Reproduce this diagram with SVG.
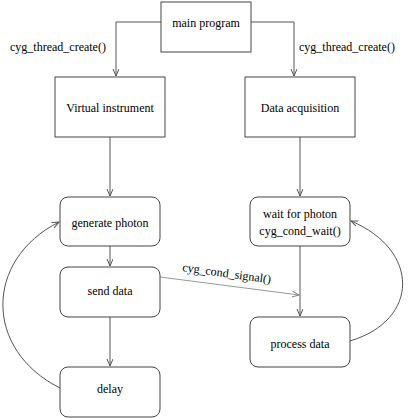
<svg xmlns="http://www.w3.org/2000/svg" width="408" height="418" viewBox="0 0 408 418" font-family="'Liberation Serif', 'DejaVu Serif', serif" font-size="12">
<defs>
<style>
.box{fill:#fff;stroke:#444;stroke-width:1}
.ln{fill:none;stroke:#555;stroke-width:1}
.lt{fill:none;stroke:#999;stroke-width:1}
text{font-family:'Liberation Serif','Times New Roman',serif;font-size:12px;fill:#000}
.c{text-anchor:middle}
</style>
<marker id="ah" markerUnits="userSpaceOnUse" markerWidth="10" markerHeight="10" refX="7" refY="3" orient="auto">
<path d="M0,0 L7,3 L0,6" fill="none" stroke="#555" stroke-width="1"/>
</marker>
<marker id="ahl" markerUnits="userSpaceOnUse" markerWidth="10" markerHeight="10" refX="7" refY="3" orient="auto">
<path d="M0,0 L7,3 L0,6" fill="none" stroke="#888" stroke-width="1"/>
</marker>
</defs>
<rect width="408" height="418" fill="#fff"/>
<g id="connectors">
<path class="ln" d="M161,22 H116 V76" marker-end="url(#ah)"/>
<path class="ln" d="M251,22 H294 V76" marker-end="url(#ah)"/>
<path class="ln" d="M110,137 V196" marker-end="url(#ah)"/>
<path class="ln" d="M300,137 V196" marker-end="url(#ah)"/>
<path class="ln" d="M110,246 V266" marker-end="url(#ah)"/>
<path class="ln" d="M110,317 V366" marker-end="url(#ah)"/>
<path class="ln" d="M300,246 V316" marker-end="url(#ah)"/>
<path class="lt" d="M160,277 L299,295" marker-end="url(#ahl)"/>
<path class="ln" d="M60,388 C-16,350 -16,260 59,222" marker-end="url(#ah)"/>
<path class="ln" d="M350,341 C420,320 420,250 351,221" marker-end="url(#ah)"/>
<text x="10" y="51">cyg_thread_create()</text>
<text x="299" y="51">cyg_thread_create()</text>
<text x="182" y="271" transform="rotate(8 182 271)">cyg_cond_signal()</text>
</g>
<g id="main"><rect class="box" x="161" y="2" width="90" height="50"/><text class="c" x="206" y="27">main program</text></g>
<g id="vi"><rect class="box" x="55" y="77" width="110" height="60"/><text class="c" x="110" y="112">Virtual instrument</text></g>
<g id="daq"><rect class="box" x="245" y="77" width="110" height="60"/><text class="c" x="300" y="112">Data acquisition</text></g>
<g id="gen"><rect class="box" x="60" y="197" width="100" height="49" rx="8"/><text class="c" x="110" y="227">generate photon</text></g>
<g id="send"><rect class="box" x="60" y="267" width="100" height="50" rx="8"/><text class="c" x="110" y="295">send data</text></g>
<g id="delay"><rect class="box" x="60" y="367" width="100" height="50" rx="8"/><text class="c" x="110" y="393">delay</text></g>
<g id="wait"><rect class="box" x="250" y="197" width="100" height="49" rx="8"/><text class="c" x="300" y="218">wait for photon</text><text class="c" x="300" y="235">cyg_cond_wait()</text></g>
<g id="proc"><rect class="box" x="250" y="317" width="100" height="50" rx="8"/><text class="c" x="300" y="348">process data</text></g>
</svg>
